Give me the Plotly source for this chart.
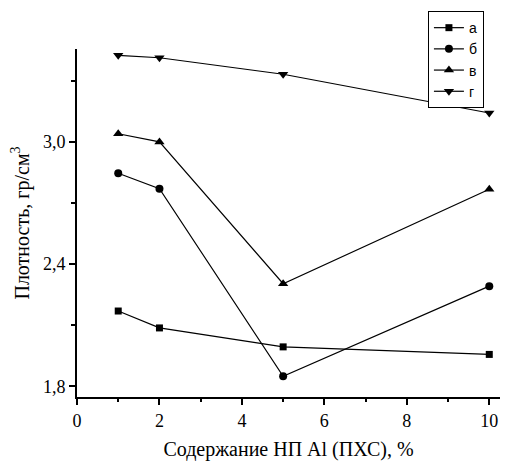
import plotly.graph_objects as go

x_vals = [1, 2, 5, 10]
series_names = ["а", "б", "в", "г"]
a_vals = [2.170, 2.087, 1.994, 1.957]
b_vals = [2.846, 2.770, 1.850, 2.292]
v_vals = [3.040, 3.000, 2.304, 2.768]
g_vals = [3.425, 3.413, 3.332, 3.142]
symbols = ["square", "circle", "triangle-up", "triangle-down"]
sizes = [7, 8, 9, 9]

fig = go.Figure()
for name, vals, sym, sz in zip(series_names, [a_vals, b_vals, v_vals, g_vals], symbols, sizes):
    fig.add_trace(go.Scatter(
        x=x_vals, y=vals, name=name, mode="lines+markers",
        line=dict(color="black", width=1.2),
        marker=dict(symbol=sym, size=sz, color="black"),
    ))

serif = "Liberation Serif, Times New Roman, serif"
fig.update_layout(
    width=505, height=462,
    margin=dict(l=77, r=5, t=49, b=60),
    paper_bgcolor="white", plot_bgcolor="white",
    separators=", ",
    showlegend=True,
    legend=dict(
        x=0.962, y=1.109, xanchor="right", yanchor="top",
        bordercolor="black", borderwidth=1, bgcolor="white",
        font=dict(family="Liberation Sans, Arial, sans-serif", size=14, color="black"),
        itemwidth=30, tracegroupgap=0,
    ),
    xaxis=dict(
        range=[0, 10.26], tickvals=[0, 2, 4, 6, 8, 10],
        showgrid=False, zeroline=False,
        showline=True, linecolor="black", linewidth=2,
        ticks="outside", ticklen=6, tickwidth=2, tickcolor="black",
        minor=dict(dtick=1, tick0=0, ticks="outside", ticklen=3, tickwidth=2, tickcolor="black"),
        tickfont=dict(family=serif, size=18, color="black"),
        title=dict(text="Содержание НП Al (ПХС), %", font=dict(family=serif, size=20, color="black"), standoff=12),
    ),
    yaxis=dict(
        range=[1.748, 3.456], tickvals=[1.8, 2.4, 3.0], tickformat=".1f",
        showgrid=False, zeroline=False,
        showline=True, linecolor="black", linewidth=2,
        ticks="outside", ticklen=6, tickwidth=2, tickcolor="black",
        minor=dict(tickvals=[2.1, 2.7, 3.3], ticks="outside", ticklen=4, tickwidth=2, tickcolor="black"),
        tickfont=dict(family=serif, size=18, color="black"),
        title=dict(text="Плотность, гр/см<sup>3</sup>", font=dict(family=serif, size=20, color="black"), standoff=8),
    ),
)

fig.write_html("out.html")
